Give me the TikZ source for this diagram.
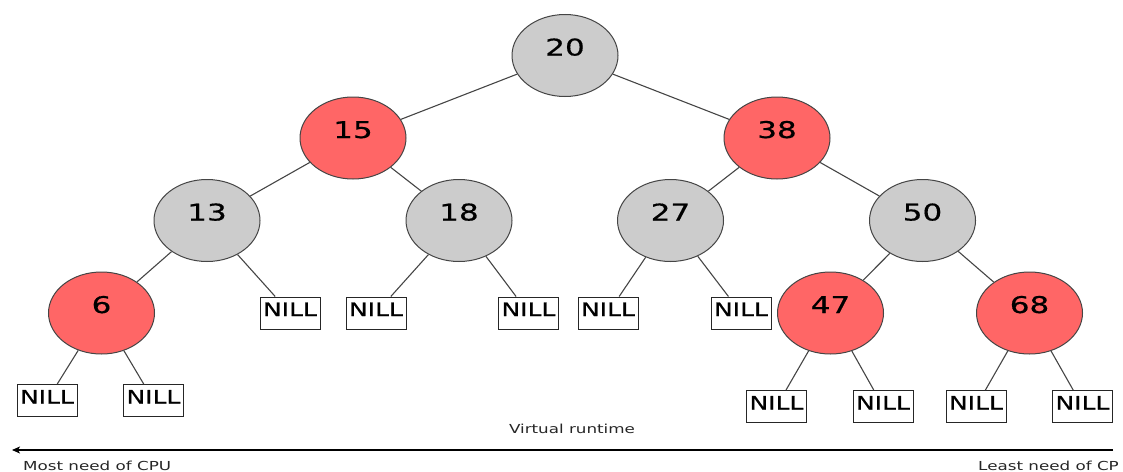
\documentclass[tikz,border=0pt]{standalone}
\usepackage{fontspec}
\usepackage{xcolor}
\usepackage{tikz}
\usetikzlibrary{arrows.meta,shapes.geometric}
\setmainfont{DejaVu Sans}
\newfontfamily\treefont{DejaVu Sans}[FakeStretch=1.35,FakeBold=0.6]
\newfontfamily\axisfont{DejaVu Sans}[FakeStretch=1.35]

\definecolor{rbred}{HTML}{FF6666}
\definecolor{rbgray}{HTML}{CCCCCC}
\definecolor{rbline}{HTML}{454545}

\tikzset{
  rbnode/.style={ellipse, draw=rbline, line width=1pt, minimum width=106pt,
    minimum height=82pt, inner sep=0pt, text height=10pt, text depth=10pt,
    font=\treefont\fontsize{23}{23}\selectfont},
  blacknode/.style={rbnode, fill=rbgray},
  rednode/.style={rbnode, fill=rbred},
  nillbox/.style={draw=black!85, line width=1pt, fill=white, minimum width=60pt,
    inner xsep=2pt, inner ysep=5pt, text height=14pt, text depth=8pt,
    font=\treefont\fontsize{18.5}{18.5}\selectfont},
  edge/.style={draw=rbline, line width=1.1pt},
  axistext/.style={font=\axisfont\fontsize{12.4}{12.4}\selectfont, text=black!85}
}

\begin{document}
\begin{tikzpicture}[x=1pt,y=-1pt]
\useasboundingbox (0,0) rectangle (1123,471);
% tree
\node[blacknode] (n20) at (565,55.5) {20};
\node[rednode] (n15) at (353,138) {15};
\node[rednode] (n38) at (777,138) {38};
\node[blacknode] (n13) at (207,220.5) {13};
\node[blacknode] (n18) at (459,220.5) {18};
\node[blacknode] (n27) at (670.5,220.5) {27};
\node[blacknode] (n50) at (922.5,220.5) {50};
\node[rednode] (n6) at (101.5,313) {6};
\node[rednode] (n47) at (830.5,313) {47};
\node[rednode] (n68) at (1029.5,313) {68};
% leaves
\node[nillbox] (nil13) at (290,313) {NILL};
\node[nillbox] (nil18a) at (376,313) {NILL};
\node[nillbox] (nil18b) at (528.5,313) {NILL};
\node[nillbox] (nil27a) at (608,313) {NILL};
\node[nillbox] (nil27b) at (741,313) {NILL};
\node[nillbox] (nil6a) at (47,400.5) {NILL};
\node[nillbox] (nil6b) at (153.5,400.5) {NILL};
\node[nillbox] (nil47a) at (776.5,406.5) {NILL};
\node[nillbox] (nil47b) at (883,406.5) {NILL};
\node[nillbox] (nil68a) at (976,406.5) {NILL};
\node[nillbox] (nil68b) at (1082.5,406.5) {NILL};
\foreach \a/\b in {n20/n15, n20/n38, n15/n13, n15/n18, n38/n27, n38/n50,
  n13/n6, n13/nil13, n18/nil18a, n18/nil18b, n27/nil27a, n27/nil27b,
  n50/n47, n50/n68, n6/nil6a, n6/nil6b, n47/nil47a, n47/nil47b,
  n68/nil68a, n68/nil68b}
  \draw[edge] (\a) -- (\b);
% runtime axis
\coordinate (axisR) at (1113,450);
\coordinate (axisL) at (12,450);
\draw[line width=1.2pt, -{Stealth[length=8pt, width=7pt, inset=2pt]}] (axisR) -- (axisL);
\node[axistext, anchor=base] (vrt) at (572,433) {Virtual runtime};
\node[axistext, anchor=base west, inner xsep=0pt] (most) at (23,470) {Most need of CPU};
\node[axistext, anchor=base west, inner xsep=0pt] (least) at (978,470) {Least need of CP};
\end{tikzpicture}
\end{document}
